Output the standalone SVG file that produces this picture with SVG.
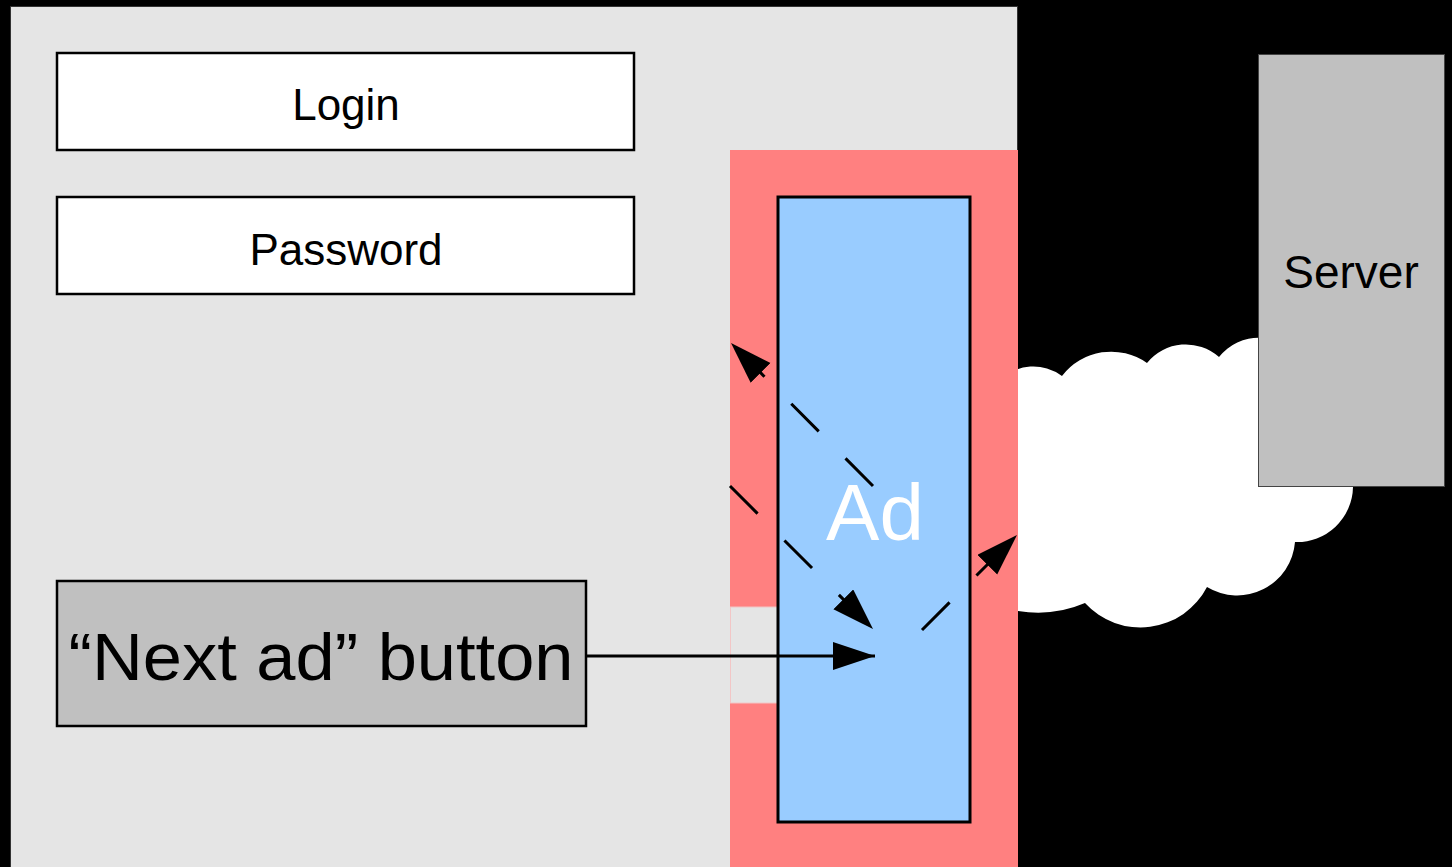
<svg xmlns="http://www.w3.org/2000/svg" width="1452" height="867" viewBox="0 0 1452 867">
  <style>
    .label { font-family: "Liberation Sans", Arial, sans-serif; text-anchor: middle; }
    .field { fill: #ffffff; stroke: #000000; stroke-width: 2.5; }
    .flow { fill: none; stroke: #000000; stroke-width: 3; }
    .dashed { stroke-dasharray: 39 38; }
  </style>
  <defs>
    <marker id="head" markerUnits="userSpaceOnUse" markerWidth="44" markerHeight="30" refX="42" refY="14" orient="auto" viewBox="0 0 44 30">
      <path d="M0,0 L42,14 L0,28 Z" fill="#000000"/>
    </marker>
  </defs>

  <!-- backdrop -->
  <rect x="0" y="0" width="1452" height="867" fill="#000000"/>

  <!-- network cloud (partly hidden behind the page and the server) -->
  <g id="cloud">
    <path d="M1000,611 L1000,380 A48,48 0 0 1 1062,376 A62,62 0 0 1 1147,363 A50,50 0 0 1 1219,357 A50,50 0 0 1 1300,360 L1353,487 A56,56 0 0 1 1295,542 A58,58 0 0 1 1207,587 A75,75 0 0 1 1085,603 A120,120 0 0 1 1018,611 Z" fill="#ffffff"/>
  </g>

  <!-- web page -->
  <g id="page">
    <rect x="10.5" y="6.5" width="1007" height="870" fill="#e5e5e5" stroke="#333333" stroke-width="1"/>
  </g>

  <g id="login">
    <rect class="field" x="57" y="53" width="577" height="97"/>
    <text class="label" x="346" y="120" font-size="44">Login</text>
  </g>

  <g id="password">
    <rect class="field" x="57" y="197" width="577" height="97"/>
    <text class="label" x="346" y="265" font-size="44">Password</text>
  </g>

  <!-- ad frame with an opening where the button's arrow passes -->
  <g id="ad-frame">
    <rect x="730" y="150" width="288" height="717" fill="#ff8080"/>
    <rect x="730.5" y="607" width="47" height="96" fill="#e5e5e5" stroke="#f2c6c6" stroke-width="1"/>
  </g>

  <g id="ad">
    <rect x="778" y="197" width="192" height="625" fill="#99ccff" stroke="#000000" stroke-width="3"/>
    <text class="label" x="875" y="540" font-size="80" fill="#ffffff">Ad</text>
  </g>

  <g id="next-ad-button">
    <rect x="57" y="581" width="529" height="145" fill="#c0c0c0" stroke="#000000" stroke-width="2.5"/>
    <text class="label" x="321" y="680" font-size="66" textLength="505" lengthAdjust="spacingAndGlyphs">“Next ad” button</text>
  </g>

  <g id="server">
    <rect x="1258.5" y="54.5" width="186" height="432" fill="#c0c0c0" stroke="#444444" stroke-width="1"/>
    <text class="label" x="1351" y="288" font-size="46">Server</text>
  </g>

  <!-- connectors -->
  <g id="connectors">
    <line class="flow" x1="587" y1="656" x2="875" y2="656" marker-end="url(#head)"/>
    <line class="flow dashed" x1="873" y1="486" x2="731" y2="343" marker-end="url(#head)"/>
    <line class="flow dashed" x1="730" y1="486" x2="873" y2="629" marker-end="url(#head)"/>
    <line class="flow dashed" x1="922" y1="630" x2="1017" y2="535" marker-end="url(#head)"/>
  </g>
</svg>
